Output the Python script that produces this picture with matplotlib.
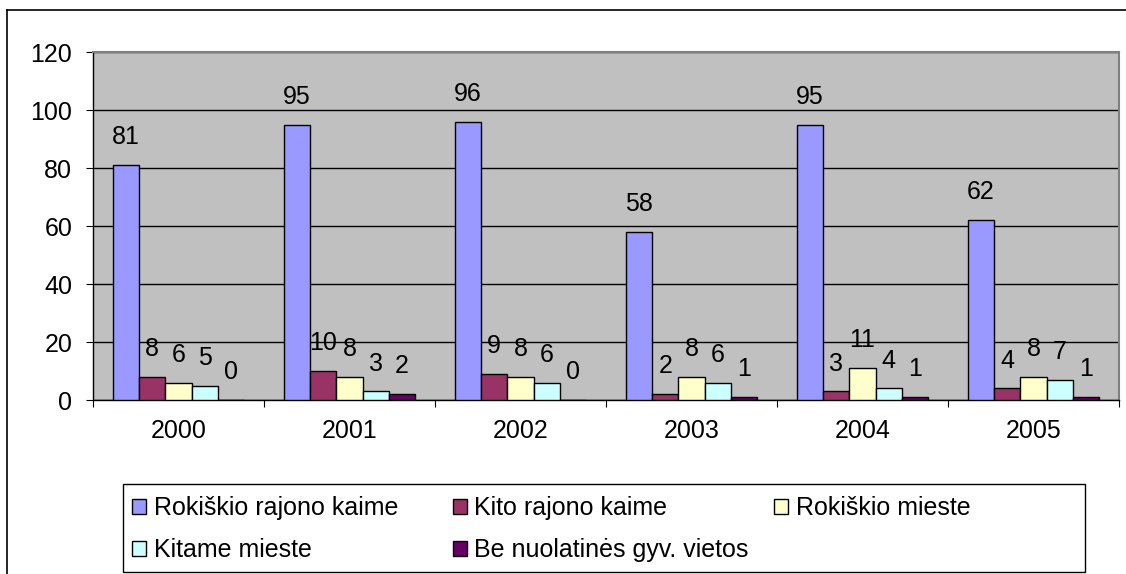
import numpy as np
import matplotlib
matplotlib.use("Agg")
import matplotlib.pyplot as plt
from matplotlib.lines import Line2D
from matplotlib.patches import Rectangle

plt.rcParams['font.family'] = ['Liberation Sans', 'DejaVu Sans']

# duomenys
metai = ['2000', '2001', '2002', '2003', '2004', '2005']
serijos = ['Rokiškio rajono kaime', 'Kito rajono kaime', 'Rokiškio mieste',
           'Kitame mieste', 'Be nuolatinės gyv. vietos']
rokiskio_kaime = [81, 95, 96, 58, 95, 62]
kito_kaime = [8, 10, 9, 2, 3, 4]
rokiskio_mieste = [6, 8, 8, 8, 11, 8]
kitame_mieste = [5, 3, 6, 6, 4, 7]
be_vietos = [0, 2, 0, 1, 1, 1]
spalvos = ['#9999FF', '#993366', '#FFFFCC', '#CCFFFF', '#660066']

W, H = 1126, 574
FS = 18
fig = plt.figure(figsize=(W / 100, H / 100), dpi=100)
ax = fig.add_axes([93 / W, 1 - 400 / H, (1119 - 93) / W, (400 - 52) / H])
ax.set_facecolor('#C0C0C0')

x = np.arange(len(metai))
w = 1 / 6.5
handles = []
for i, (vals, col) in enumerate(zip([rokiskio_kaime, kito_kaime, rokiskio_mieste,
                                     kitame_mieste, be_vietos], spalvos)):
    pos = x + (i - 2) * w
    b = ax.bar(pos, vals, w, color=col, edgecolor='black', linewidth=1.0, zorder=3)
    handles.append(b)
    for px, v in zip(pos, vals):
        ax.annotate(str(v), (px, v), xytext=(0, 20), textcoords='offset points',
                    ha='center', va='center', fontsize=FS, zorder=4)

ax.set_ylim(0, 120)
ax.set_xlim(-0.5, 5.5)
ax.set_yticks(range(0, 121, 20))
ax.yaxis.grid(True, color='black', linewidth=1.0, zorder=1)
ax.set_axisbelow(True)
ax.tick_params(axis='y', direction='out', length=5, width=0.8, pad=10, labelsize=FS)
ax.set_xticks(x)
ax.set_xticklabels(metai)
ax.tick_params(axis='x', which='major', length=0, pad=14, labelsize=FS)
ax.set_xticks(np.arange(-0.5, 6, 1), minor=True)
ax.tick_params(axis='x', which='minor', direction='out', length=5, width=0.8)
for s in ['top', 'right']:
    ax.spines[s].set_color('#808080')
    ax.spines[s].set_linewidth(1.5)
for s in ['left', 'bottom']:
    ax.spines[s].set_color('black')
    ax.spines[s].set_linewidth(1.0)

# legenda: trys stulpeliai vienodo plocio
fig.add_artist(Rectangle((123 / W, 1 - 572 / H), (1085 - 123) / W, (572 - 484) / H,
                         transform=fig.transFigure, facecolor='white',
                         edgecolor='black', linewidth=1.0, zorder=2))
stulpeliai = [[0, 3], [1, 4], [2]]
for j, idx in enumerate(stulpeliai):
    leg = fig.legend([handles[k] for k in idx], [serijos[k] for k in idx],
                     loc='upper left', bbox_to_anchor=((132 + 321 * j) / W, 1 - 496 / H),
                     bbox_transform=fig.transFigure, fontsize=FS, frameon=False,
                     handlelength=0.56, handleheight=0.56, handletextpad=0.3,
                     labelspacing=0.72, borderpad=0, borderaxespad=0)
    leg.set_zorder(3)

# remelis aplink diagrama
fig.add_artist(Line2D([7 / W, 1], [1 - 10 / H, 1 - 10 / H], color='black', lw=1.2,
                      transform=fig.transFigure))
fig.add_artist(Line2D([7 / W, 7 / W], [0, 1 - 10 / H], color='black', lw=1.2,
                      transform=fig.transFigure))

fig.savefig('out.png', dpi=100)
